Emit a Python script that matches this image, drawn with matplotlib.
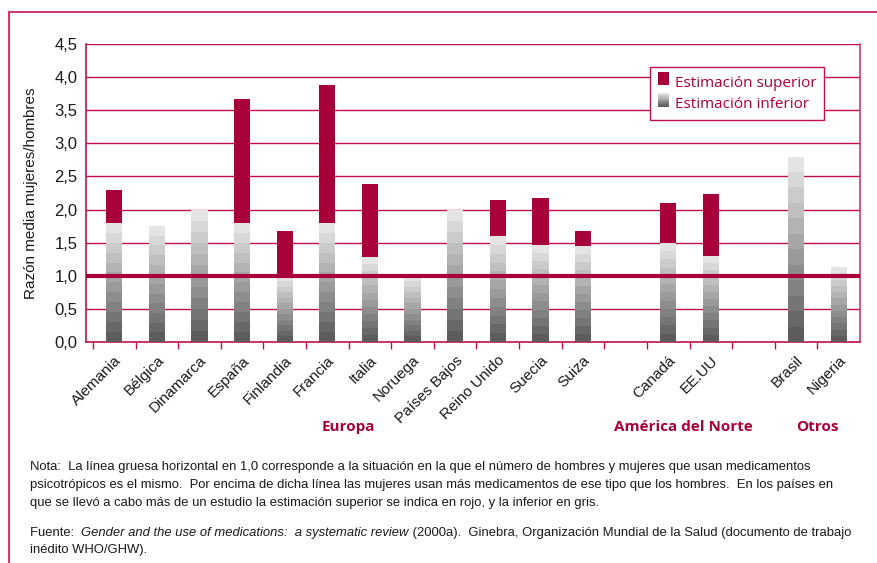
import matplotlib
matplotlib.use("Agg")
import matplotlib.pyplot as plt
import numpy as np
from matplotlib.patches import Rectangle
from matplotlib.lines import Line2D
from matplotlib.legend_handler import HandlerBase

# ---------------- data ----------------
countries = ["Alemania", "Bélgica", "Dinamarca", "España", "Finlandia", "Francia",
             "Italia", "Noruega", "Países Bajos", "Reino Unido", "Suecia", "Suiza",
             "Canadá", "EE.UU", "Brasil", "Nigeria"]
slots = [0, 1, 2, 3, 4, 5, 6, 7, 8, 9, 10, 11, 13, 14, 16, 17]
lower = [1.80, 1.75, 2.00, 1.80, 1.00, 1.80, 1.28, 1.00, 2.00, 1.60, 1.47, 1.45,
         1.50, 1.30, 2.80, 1.13]
upper = [2.30, None, None, 3.67, 1.67, 3.88, 2.38, None, None, 2.15, 2.17, 1.67,
         2.10, 2.23, None, None]
groups = ["Europa", "América del Norte", "Otros"]
group_pos = [6.0, 13.85, 17.0]
yticks = [0.0, 0.5, 1.0, 1.5, 2.0, 2.5, 3.0, 3.5, 4.0, 4.5]
ytick_labels = ["0,0", "0,5", "1,0", "1,5", "2,0", "2,5", "3,0", "3,5", "4,0", "4,5"]

RED = "#a8003a"
LINE = "#c0104a"
FRAME = "#cc3a72"
TXT = "#1a1a1a"
FONT = ["Liberation Sans", "DejaVu Sans"]
plt.rcParams["font.family"] = FONT

NB = 12
dark = np.array([0x5c, 0x5c, 0x5c]) / 255
light = np.array([0xe4, 0xe4, 0xe4]) / 255
band_cols = [tuple(dark + (light - dark) * k / (NB - 1)) for k in range(NB)]

fig = plt.figure(figsize=(8.77, 5.63), dpi=100)
ax = fig.add_axes([86 / 877, 1 - 342 / 563, 774 / 877, 298 / 563])

W = 0.38
centers = np.array(slots) + 0.5
for c, lo, up in zip(centers, lower, upper):
    h = lo / NB
    for k in range(NB):
        ax.bar(c, h, bottom=k * h, width=W, color=band_cols[k], linewidth=0, zorder=3)
    if up is not None:
        ax.bar(c, up - lo, bottom=lo, width=W, color=RED, linewidth=0, zorder=3)

ax.set_xlim(-0.164, 18)
ax.set_ylim(0, 4.5)
for y in yticks[1:]:
    ax.axhline(y, color=LINE, lw=1.0, zorder=1)
ax.axhline(1.0, color=RED, lw=3.0, zorder=4)

ax.set_yticks(yticks)
ax.set_yticklabels(ytick_labels, fontsize=12, color=TXT)
ax.tick_params(axis="y", length=0, pad=6)
ax.set_xticks(np.arange(0, 18))
ax.set_xticklabels([])
ax.tick_params(axis="x", length=5, color=LINE, width=1, direction="out")
ax.set_xticks(centers, minor=True)
ax.set_xticklabels(countries, minor=True, rotation=45, ha="right",
                   rotation_mode="anchor", fontsize=11, color=TXT)
ax.tick_params(axis="x", which="minor", length=0, pad=8)
for s in ["left", "bottom", "right"]:
    ax.spines[s].set_color(LINE)
    ax.spines[s].set_linewidth(1.2)
ax.spines["right"].set_color(FRAME)
ax.spines["top"].set_visible(False)

ax.set_ylabel("Razón media mujeres/hombres", fontsize=11, color=TXT)
ax.yaxis.set_label_coords(-0.062, 0.5)

for g, gp in zip(groups, group_pos):
    ax.text(gp, -0.285, g, transform=ax.get_xaxis_transform(), ha="center", va="center",
            fontsize=11, fontweight="bold", color=RED,
            family=["Open Sans", "DejaVu Sans"])


class GradHandler(HandlerBase):
    def create_artists(self, legend, orig_handle, xd, yd, width, height, fontsize, trans):
        arts = []
        for k in range(NB):
            arts.append(Rectangle((xd, yd + k * height / NB), width, height / NB,
                                  facecolor=band_cols[k], edgecolor="none", transform=trans))
        return arts


class RedHandler(HandlerBase):
    def create_artists(self, legend, orig_handle, xd, yd, width, height, fontsize, trans):
        return [Rectangle((xd, yd), width, height, facecolor=RED, edgecolor="none",
                          transform=trans)]


h1 = Rectangle((0, 0), 1, 1)
h2 = Line2D([], [])
leg = ax.legend([h1, h2], ["Estimación superior", "Estimación inferior"],
                handler_map={h1: RedHandler(), h2: GradHandler()},
                loc="upper right", bbox_to_anchor=(0.964, 0.948),
                handlelength=0.75, handleheight=1.0, handletextpad=0.4,
                borderpad=0.5, labelspacing=0.35, fancybox=False, framealpha=1,
                edgecolor=LINE, prop={"family": ["Open Sans", "DejaVu Sans"], "size": 11})
leg.get_frame().set_linewidth(1.0)
for t in leg.get_texts():
    t.set_color(RED)
leg.set_zorder(10)

# frame around figure (top and left)
fig.add_artist(Line2D([9 / 877, 1.0], [1 - 12 / 563, 1 - 12 / 563], color=FRAME, lw=1.5,
                      transform=fig.transFigure))
fig.add_artist(Line2D([9 / 877, 9 / 877], [1 - 12 / 563, 0], color=FRAME, lw=1.5,
                      transform=fig.transFigure))

FS = 9.4
note_lines = [
    "Nota:  La línea gruesa horizontal en 1,0 corresponde a la situación en la que el número de hombres y mujeres que usan medicamentos",
    "psicotrópicos es el mismo.  Por encima de dicha línea las mujeres usan más medicamentos de ese tipo que los hombres.  En los países en",
    "que se llevó a cabo más de un estudio la estimación superior se indica en rojo, y la inferior en gris.",
]
for i, ln in enumerate(note_lines):
    fig.text(30 / 877, 1 - (467 + 18 * i) / 563, ln, ha="left", va="center",
             fontsize=FS, color=TXT)
ysrc = 1 - 533 / 563
t0 = fig.text(30 / 877, ysrc, "Fuente:  ", ha="left", va="center", fontsize=FS, color=TXT)
fig.canvas.draw()
r = fig.canvas.get_renderer()
bb = t0.get_window_extent(r)
x1 = bb.x1 / fig.bbox.width
t1 = fig.text(x1, ysrc, "Gender and the use of medications:  a systematic review",
              ha="left", va="center", fontsize=FS, color=TXT, style="italic")
bb1 = t1.get_window_extent(r)
x2 = bb1.x1 / fig.bbox.width
fig.text(x2, ysrc,
         " (2000a).  Ginebra, Organización Mundial de la Salud (documento de trabajo",
         ha="left", va="center", fontsize=FS, color=TXT)
fig.text(30 / 877, 1 - 550 / 563, "inédito WHO/GHW).", ha="left", va="center",
         fontsize=FS, color=TXT)

fig.savefig("out.png", dpi=100)
